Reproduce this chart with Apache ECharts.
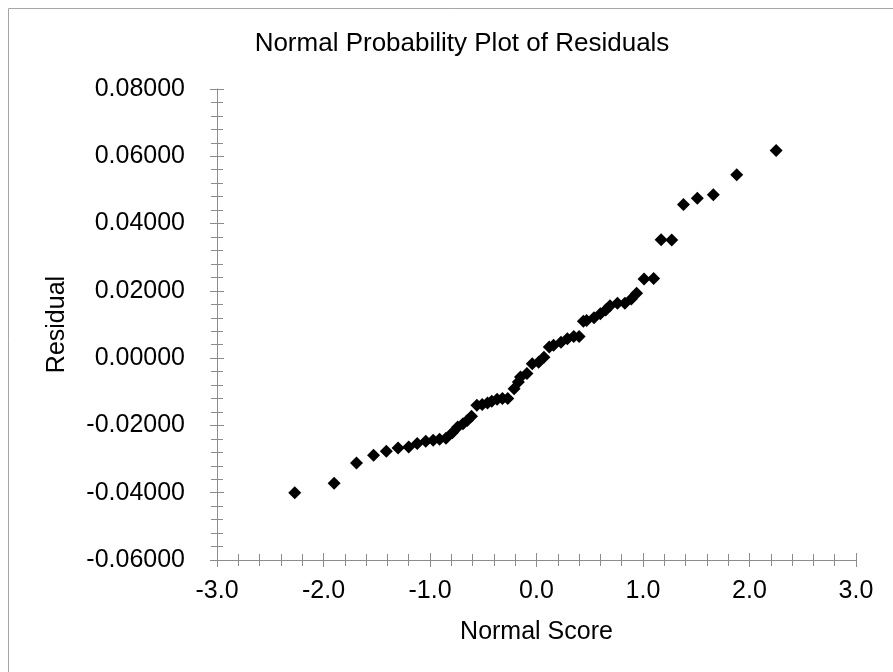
<!DOCTYPE html>
<html>
<head>
<meta charset="utf-8">
<script src="https://cdn.jsdelivr.net/npm/echarts@6/dist/echarts.min.js"></script>
<style>
  html, body { margin: 0; padding: 0; background: #fff; }
  #chart { width: 893px; height: 672px; }
</style>
</head>
<body>
<div id="chart"></div>
<script>
// normal scores (x) and residuals (y)
var normalScore = [
  -2.27, -1.90, -1.69, -1.53, -1.41, -1.30, -1.20, -1.12, -1.04, -0.97,
  -0.91, -0.85, -0.79, -0.74, -0.69, -0.65, -0.61, -0.56, -0.51, -0.46,
  -0.42, -0.37, -0.32, -0.27, -0.21, -0.17, -0.15, -0.09, -0.04, 0.02,
  0.07, 0.12, 0.16, 0.23, 0.29, 0.35, 0.40, 0.44, 0.47, 0.54,
  0.60, 0.65, 0.69, 0.76, 0.83, 0.89, 0.94, 1.01, 1.10, 1.17,
  1.27, 1.38, 1.51, 1.66, 1.88, 2.25
];
var residual = [
  -0.0400, -0.0372, -0.0312, -0.0289, -0.0277, -0.0267, -0.0264, -0.0254, -0.0247, -0.0244,
  -0.0241, -0.0238, -0.0222, -0.0205, -0.0195, -0.0185, -0.0173, -0.0140, -0.0138, -0.0133,
  -0.0128, -0.0122, -0.0120, -0.0120, -0.0091, -0.0071, -0.0056, -0.0046, -0.0017, -0.0012,
  0.0003, 0.0033, 0.0038, 0.0047, 0.0058, 0.0064, 0.0064, 0.0110, 0.0112, 0.0120,
  0.0132, 0.0143, 0.0156, 0.0163, 0.0163, 0.0176, 0.0193, 0.0235, 0.0237, 0.0352,
  0.0351, 0.0457, 0.0475, 0.0486, 0.0545, 0.0617
];
var xRange = [-3, 3, 1];        // min, max, interval
var yRange = [-0.06, 0.08, 0.02];

var points = normalScore.map(function (x, i) { return [x, residual[i]]; });

var FONT = "'Liberation Sans', Arial, sans-serif";
var AXIS_GRAY = "#8c8c8c";

var chart = echarts.init(document.getElementById("chart"), null, { renderer: "canvas" });

// Excel draws ticks that cross the axis, so each axis is doubled:
// one with outside ticks + labels, one with inside ticks only
function xAxisBase(inside) {
  return {
    type: "value",
    position: "bottom",
    min: xRange[0],
    max: xRange[1],
    interval: xRange[2],
    axisLine: { show: !inside, onZero: false, lineStyle: { color: AXIS_GRAY, width: 1 } },
    axisTick: { show: true, inside: inside, length: 7, lineStyle: { color: AXIS_GRAY } },
    minorTick: { show: true, splitNumber: 5, length: 6, lineStyle: { color: AXIS_GRAY } },
    splitLine: { show: false },
    axisLabel: {
      show: !inside,
      margin: 19,
      color: "#000",
      fontFamily: FONT,
      fontSize: 25,
      formatter: function (v) { return v.toFixed(1); }
    }
  };
}

function yAxisBase(inside) {
  return {
    type: "value",
    position: "left",
    min: yRange[0],
    max: yRange[1],
    interval: yRange[2],
    axisLine: { show: !inside, onZero: false, lineStyle: { color: AXIS_GRAY, width: 1 } },
    axisTick: { show: true, inside: inside, length: 7, lineStyle: { color: AXIS_GRAY } },
    minorTick: { show: true, splitNumber: 5, length: 6, lineStyle: { color: AXIS_GRAY } },
    splitLine: { show: false },
    axisLabel: {
      show: !inside,
      margin: 32,
      color: "#000",
      fontFamily: FONT,
      fontSize: 25,
      formatter: function (v) { return v.toFixed(5); }
    }
  };
}

var xMain = xAxisBase(false);
xMain.name = "Normal Score";
xMain.nameLocation = "middle";
xMain.nameGap = 60;
xMain.nameTextStyle = { color: "#000", fontFamily: FONT, fontSize: 25 };

var yMain = yAxisBase(false);
yMain.name = "Residual";
yMain.nameLocation = "middle";
yMain.nameGap = 147;
yMain.nameRotate = 90;
yMain.nameTextStyle = { color: "#000", fontFamily: FONT, fontSize: 25 };

chart.setOption({
  animation: false,
  backgroundColor: "#fff",
  title: {
    text: "Normal Probability Plot of Residuals",
    left: 457,
    top: 26,
    textAlign: "center",
    textStyle: { color: "#000", fontFamily: FONT, fontSize: 26, fontWeight: "normal" }
  },
  grid: { left: 217, right: 37, top: 89, bottom: 112 },
  xAxis: [xMain, xAxisBase(true)],
  yAxis: [yMain, yAxisBase(true)],
  graphic: [{
    type: "polyline",
    shape: { points: [[8.5, 672], [8.5, 8.5], [893, 8.5]] },
    style: { stroke: "#a6a6a6", lineWidth: 1, fill: null },
    silent: true
  }],
  series: [{
    type: "scatter",
    xAxisIndex: 0,
    yAxisIndex: 0,
    data: points,
    symbol: "diamond",
    symbolSize: [13, 13],
    itemStyle: { color: "#000", opacity: 1 }
  }]
});
</script>
</body>
</html>
